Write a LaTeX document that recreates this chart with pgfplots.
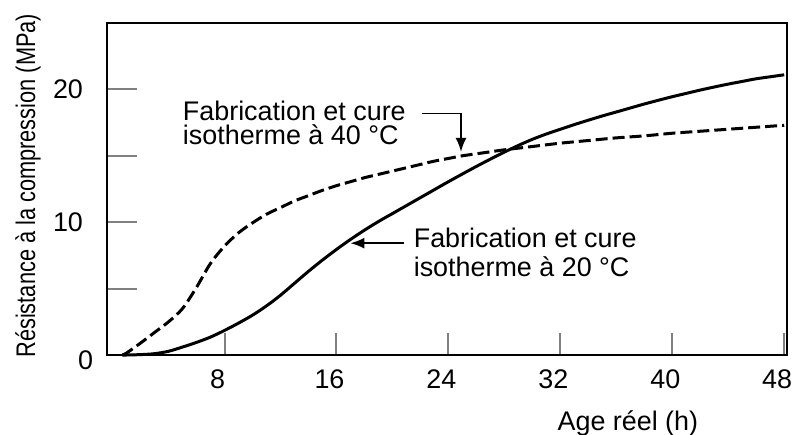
\documentclass[border=0pt]{standalone}
\usepackage{fontspec}
\setmainfont{Liberation Sans}
\usepackage{graphicx}
\usepackage{pgfplots}
\pgfplotsset{compat=1.18}
\usetikzlibrary{arrows.meta}
\begin{document}
\begin{tikzpicture}
\begin{axis}[
  scale only axis,
  width=340bp, height=166bp,
  xmin=-0.4, xmax=48.2, ymin=0, ymax=25,
  axis line style={line width=1bp},
  tick align=inside,
  xtick pos=lower, ytick pos=left,
  xtick={8,16,24,32,40,48},
  ytick={0,5,10,15,20},
  yticklabels={\raisebox{-2.5bp}[\height][0pt]{0}\hspace*{-5bp},,10,,20},
  /pgf/number format/assume math mode=true,
  xtick style={line width=1bp,/pgfplots/major tick length=11bp},
  ytick style={line width=1bp,/pgfplots/major tick length=15bp},
  ticklabel style={font=\fontsize{13.5}{16}\selectfont},
  xticklabel style={yshift=-4bp,xshift=-3.5bp},
  yticklabel style={xshift=-8.5bp},
  xlabel={Age réel (h)},
  xlabel style={at={(axis description cs:0.766,0)},anchor=north,yshift=-24.5bp,font=\fontsize{13.5}{16}\selectfont},
  ylabel={\scalebox{0.81}[1]{Résistance à la compression (MPa)}},
  ylabel style={at={(axis description cs:-0.116,0.51)},anchor=center,font=\fontsize{13.5}{16}\selectfont},
  clip=false,
]
% Cure isotherme a 40 C (dashed)
\addplot[black, line width=1.5bp, dash pattern=on 6bp off 2.5bp, smooth] coordinates {
(0.7,0) (1,0.15) (2,0.9) (3,1.7) (4,2.5) (5,3.5) (6,5.1) (7,6.9) (8,8.2) (9,9.2) (10,9.95) (11,10.6) (12,11.1) (13,11.6) (14,12.0) (15,12.4) (16,12.75) (17,13.05) (18,13.35) (19,13.6) (20,13.85) (21,14.1) (22,14.35) (23,14.6) (24,14.8) (25,15.0) (26,15.15) (27,15.3) (28,15.45) (30,15.7) (32,15.95) (34,16.15) (36,16.35) (38,16.5) (40,16.7) (42,16.85) (44,17.0) (46,17.15) (48,17.3)
};
% Cure isotherme a 20 C (solid)
\addplot[black, line width=1.5bp, smooth] coordinates {
(0.7,0) (1,0.0) (2,0.03) (3,0.1) (4,0.28) (5,0.6) (6,0.95) (7,1.35) (8,1.85) (9,2.4) (10,3.0) (11,3.7) (12,4.5) (13,5.4) (14,6.3) (15,7.15) (16,7.95) (17,8.7) (18,9.4) (19,10.05) (20,10.65) (21,11.25) (22,11.85) (23,12.45) (24,13.05) (25,13.63) (26,14.2) (27,14.75) (28,15.28) (29,15.78) (30,16.24) (31,16.64) (32,17.0) (33,17.35) (34,17.68) (35,18.0) (36,18.3) (37,18.6) (38,18.9) (39,19.18) (40,19.45) (41,19.7) (42,19.95) (43,20.18) (44,20.4) (45,20.6) (46,20.8) (47,20.95) (48,21.1)
};
\node[anchor=base west, inner sep=0pt, font=\fontsize{13.5}{16}\selectfont] at (axis cs:5.0,17.67) {Fabrication et cure};
\node[anchor=base west, inner sep=0pt, font=\fontsize{13.5}{16}\selectfont] at (axis cs:5.0,15.86) {isotherme à 40 °C};
\draw[line width=0.8bp, -{Latex[length=7bp,width=5.5bp]}] (axis cs:22.1,18.2) -- (axis cs:24.9,18.2) -- (axis cs:24.9,15.3);
\node[anchor=base west, inner sep=0pt, font=\fontsize{13.5}{16}\selectfont] at (axis cs:21.5,8.12) {Fabrication et cure};
\node[anchor=base west, inner sep=0pt, font=\fontsize{13.5}{16}\selectfont] at (axis cs:21.5,5.94) {isotherme à 20 °C};
\draw[line width=0.8bp, -{Latex[length=7bp,width=5.5bp]}] (axis cs:20.8,8.42) -- (axis cs:17.0,8.42);
\end{axis}
\pgfresetboundingbox
\path[use as bounding box] ([xshift=-53.5bp,yshift=-40bp]current axis.south west) rectangle ([xshift=3bp,yshift=11.5bp]current axis.north east);
\end{tikzpicture}
\end{document}
